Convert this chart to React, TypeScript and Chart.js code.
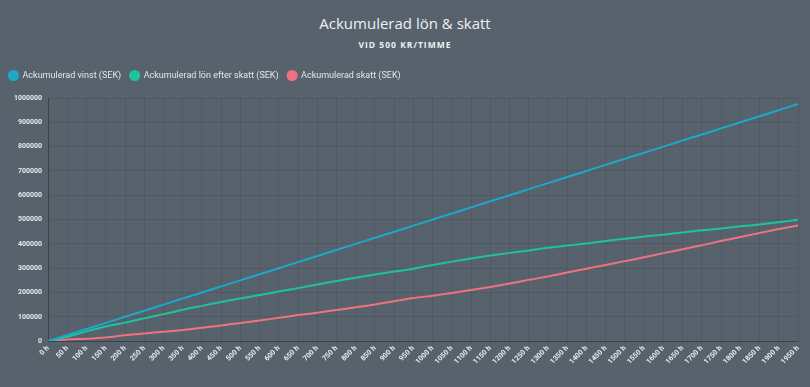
import React, { useEffect, useRef } from "react";
import { Chart, registerables } from "chart.js";

Chart.register(...registerables);

const TITLE = "Ackumulerad lön & skatt";
const SUBTITLE = "VID 500 KR/TIMME";

const hourLabels = [
  "0 h", "50 h", "100 h", "150 h", "200 h", "250 h", "300 h", "350 h", "400 h", "450 h",
  "500 h", "550 h", "600 h", "650 h", "700 h", "750 h", "800 h", "850 h", "900 h", "950 h",
  "1000 h", "1050 h", "1100 h", "1150 h", "1200 h", "1250 h", "1300 h", "1350 h", "1400 h", "1450 h",
  "1500 h", "1550 h", "1600 h", "1650 h", "1700 h", "1750 h", "1800 h", "1850 h", "1900 h", "1950 h",
];

const vinst = [
  0, 25000, 50000, 75000, 100000, 125000, 150000, 175000, 200000, 225000,
  250000, 275000, 300000, 325000, 350000, 375000, 400000, 425000, 450000, 475000,
  500000, 525000, 550000, 575000, 600000, 625000, 650000, 675000, 700000, 725000,
  750000, 775000, 800000, 825000, 850000, 875000, 900000, 925000, 950000, 975000,
];

const lonEfterSkatt = [
  0, 18000, 40000, 60000, 76000, 94000, 111000, 129000, 145000, 161000,
  175000, 190000, 204000, 218000, 233000, 247000, 261000, 274000, 286000, 298000,
  313000, 327000, 340000, 352000, 363000, 373000, 384000, 393000, 402000, 412000,
  421000, 430000, 438000, 447000, 456000, 463000, 472000, 480000, 489000, 499000,
];

const skatt = [
  0, 7000, 10000, 15000, 24000, 31000, 39000, 46000, 55000, 64000,
  75000, 85000, 96000, 107000, 117000, 128000, 139000, 151000, 164000, 177000,
  187000, 198000, 210000, 223000, 237000, 252000, 266000, 282000, 298000, 313000,
  329000, 345000, 362000, 378000, 394000, 412000, 428000, 445000, 461000, 476000,
];

const seriesNames = [
  "Ackumulerad vinst (SEK)",
  "Ackumulerad lön efter skatt (SEK)",
  "Ackumulerad skatt (SEK)",
];
const seriesColors = ["#1aaac8", "#1dc39b", "#f0717f"];

const legendSpacer = {
  id: "legendSpacer",
  beforeInit(chart: any) {
    const legend = chart.legend;
    if (!legend) return;
    const origFit = legend.fit;
    legend.fit = function () {
      origFit.call(this);
      this.height += 8;
    };
  },
};

export default function App() {
  const ref = useRef<HTMLCanvasElement | null>(null);

  useEffect(() => {
    document.body.style.margin = "0";
    const canvas = ref.current;
    if (!canvas) return;
    const data = [vinst, lonEfterSkatt, skatt];
    const chart = new Chart(canvas, {
      type: "line",
      data: {
        labels: hourLabels,
        datasets: data.map((d, i) => ({
          label: seriesNames[i],
          data: d,
          borderColor: seriesColors[i],
          backgroundColor: seriesColors[i],
          borderWidth: 2,
          pointRadius: 0,
          pointHoverRadius: 0,
          tension: 0.3,
          fill: false,
        })),
      },
      plugins: [legendSpacer],
      options: {
        animation: false,
        responsive: false,
        maintainAspectRatio: false,
        layout: { padding: { top: 62, left: 0, right: 12, bottom: 18 } },
        plugins: {
          title: { display: false },
          tooltip: { enabled: false },
          legend: {
            display: true,
            position: "top",
            align: "start",
            labels: {
              usePointStyle: true,
              pointStyle: "circle",
              boxWidth: 11,
              boxHeight: 6.4,
              padding: 9,
              color: "#e4e6e9",
              font: { family: "Roboto", size: 9 },
            },
          },
        },
        scales: {
          x: {
            grid: { color: "rgba(0,0,0,0.09)", drawTicks: false },
            border: { color: "rgba(0,0,0,0.25)" },
            ticks: {
              color: "#e8eaec",
              font: { family: "Roboto", size: 7.2, weight: "bold" },
              maxRotation: 45,
              minRotation: 45,
              autoSkip: false,
              padding: 3,
            },
          },
          y: {
            min: 0,
            max: 1000000,
            grid: { color: "rgba(0,0,0,0.09)", drawTicks: false },
            border: { color: "rgba(0,0,0,0.25)" },
            afterFit: (scale: any) => {
              scale.width += 8;
            },
            ticks: {
              stepSize: 100000,
              color: "#e8eaec",
              font: { family: "Roboto", size: 7, weight: "bold" },
              padding: 6,
              callback: (v: any) => String(v),
            },
          },
        },
      },
    });
    return () => chart.destroy();
  }, []);

  return (
    <div style={{ position: "relative", width: 810, height: 387, background: "#58626d", overflow: "hidden" }}>
      <div
        style={{
          position: "absolute",
          top: 12,
          left: 0,
          width: 810,
          textAlign: "center",
          color: "#eef0f2",
          fontFamily: "'Open Sans', sans-serif",
          fontSize: 15,
          lineHeight: "22px",
        }}
      >
        {TITLE}
      </div>
      <div
        style={{
          position: "absolute",
          top: 38,
          left: 0,
          width: 810,
          textAlign: "center",
          color: "#eef0f2",
          fontFamily: "'Open Sans', sans-serif",
          fontSize: 8.5,
          fontWeight: 700,
          letterSpacing: 1,
          lineHeight: "14px",
        }}
      >
        {SUBTITLE}
      </div>
      <canvas ref={ref} width={810} height={387} style={{ position: "absolute", left: 0, top: 0 }} />
    </div>
  );
}
